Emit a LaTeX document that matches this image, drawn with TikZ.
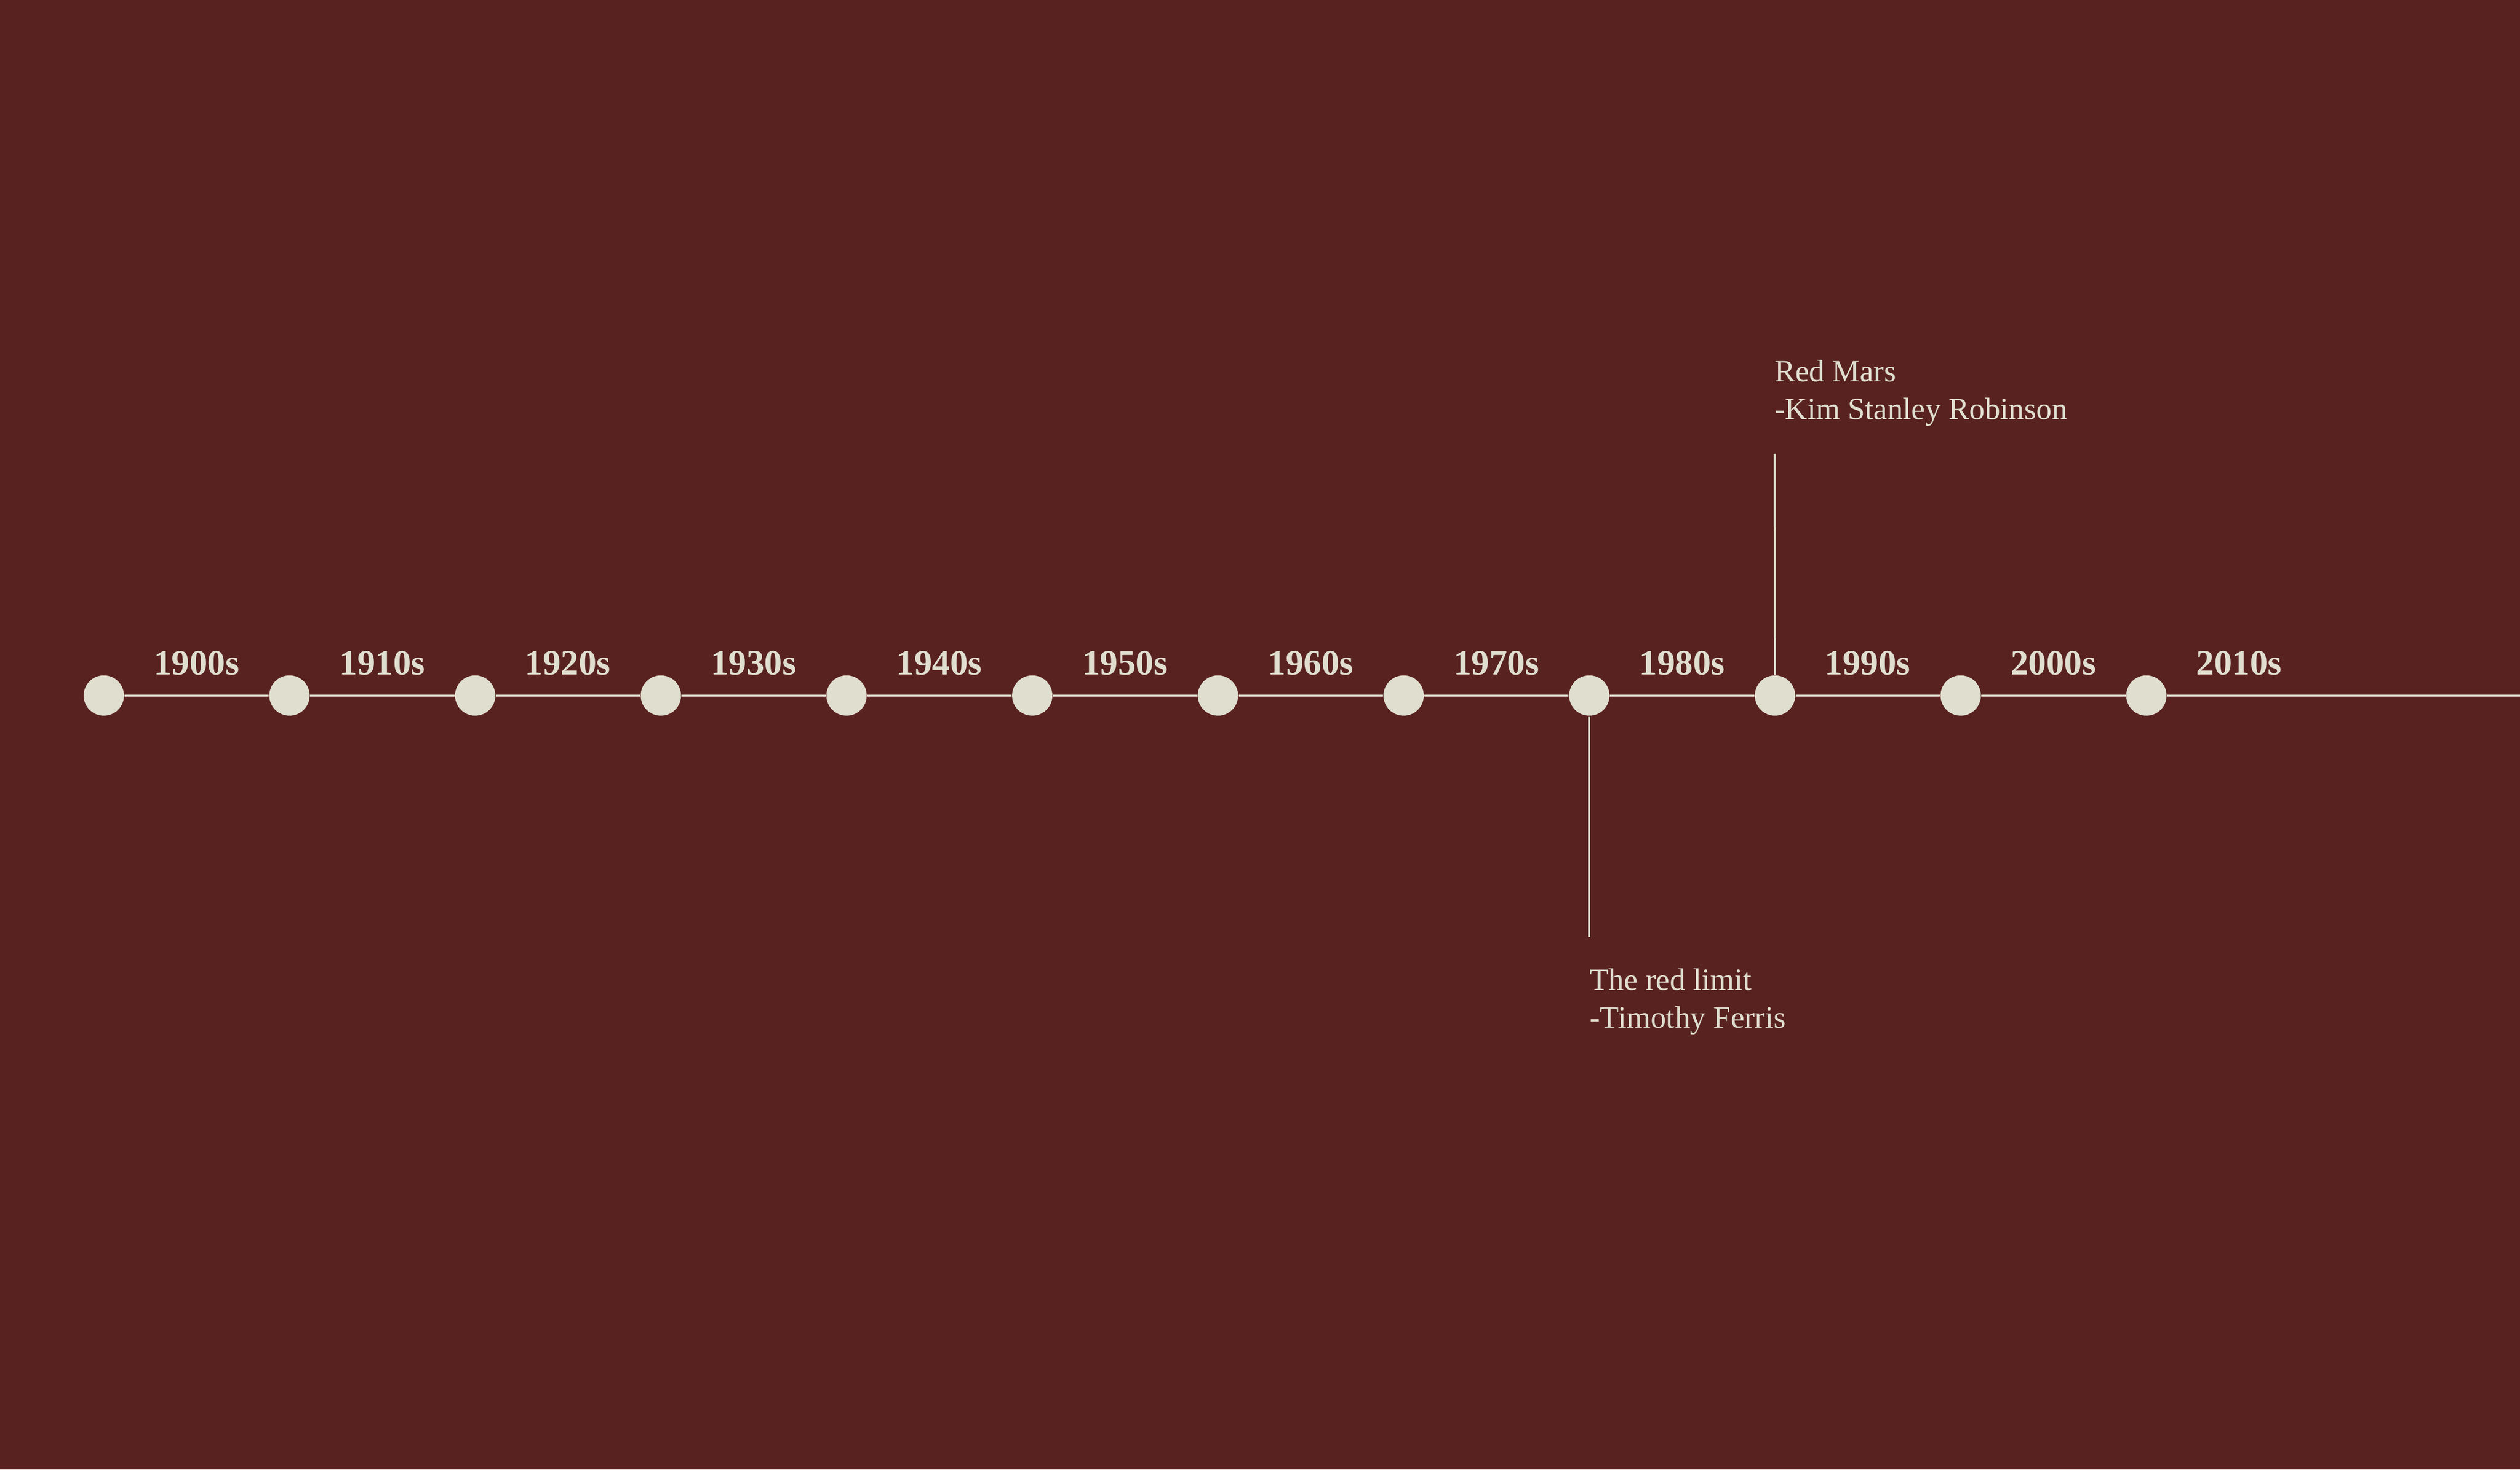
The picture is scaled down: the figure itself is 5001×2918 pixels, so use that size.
\documentclass[tikz,border=0pt]{standalone}
\usepackage{fontspec}
\setmainfont{Liberation Serif}
\definecolor{bgmaroon}{RGB}{88,34,32}
\definecolor{cream}{RGB}{223,222,207}
\begin{document}
\begin{tikzpicture}[x=0.2pt,y=-0.2pt,
  dot/.style={circle,fill=cream,draw=none,minimum size=16pt,inner sep=0pt},
  decade/.style={text=cream,font=\fontsize{14.2pt}{16pt}\selectfont\bfseries,inner sep=0pt,anchor=base},
  book/.style={text=cream,font=\fontsize{12.3pt}{15pt}\selectfont,inner sep=0pt,align=left,anchor=base west},
  rule/.style={draw=cream,line width=0.8pt}]
\fill[bgmaroon] (0,0) rectangle (5001,2918);
\useasboundingbox (0,0) rectangle (5001,2918);
\foreach \i/\lab in {0/1900s,1/1910s,2/1920s,3/1930s,4/1940s,5/1950s,6/1960s,7/1970s,8/1980s,9/1990s,10/2000s,11/2010s}{
  \node[dot] (c\i) at ({206+368.5*\i},1381) {};
  \node[decade] (d\i) at ({390+368.5*\i},1340) {\lab};
}
\foreach \i [evaluate=\i as \j using int(\i+1)] in {0,...,10}{
  \draw[rule] (c\i.east) -- (c\j.west);
}
\coordinate (lineend) at (5001,1381);
\draw[rule] (c11.east) -- (lineend);
% Red Mars
\coordinate (rmtop) at (3522,901);
\draw[rule] (c9.north) -- (rmtop);
\node[book] (redmars) at (3521,833) {Red Mars\\-Kim Stanley Robinson};
% The red limit
\coordinate (rlbot) at (3157,1860);
\draw[rule] (c8.south) -- (c8.south |- rlbot);
\node[book] (redlimit) at (3154,2041) {The red limit\\-Timothy Ferris};
\end{tikzpicture}
\end{document}
